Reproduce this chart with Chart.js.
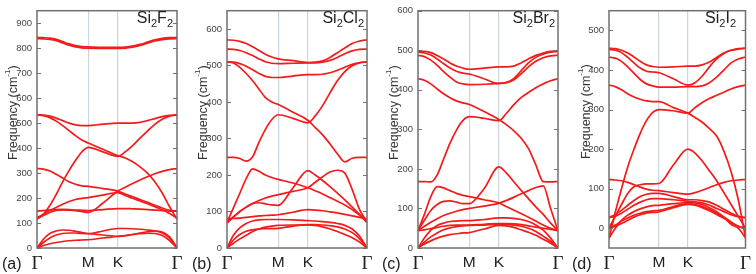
<!DOCTYPE html>
<html><head><meta charset="utf-8">
<script src="https://cdn.jsdelivr.net/npm/chart.js@4/dist/chart.umd.min.js"></script>
<style>
html,body{margin:0;padding:0;background:#fff;}
#wrap{position:relative;width:756px;height:274px;overflow:hidden;font-family:'Liberation Sans',Arial,sans-serif;}
canvas{position:absolute;top:0;}
.ytitle{position:absolute;writing-mode:vertical-rl;transform:rotate(180deg);white-space:nowrap;font-size:12.5px;line-height:14px;width:14px;height:100px;text-align:center;color:#333;}
.ytitle sup{font-size:8px;}
.plabel{position:absolute;top:255px;font-size:16px;color:#222;}
.name{position:absolute;top:9px;font-size:16px;color:#222;white-space:nowrap;}
.name sub{font-size:11px;vertical-align:-4px;}
</style></head><body>
<div id="wrap">
<canvas id="ca" width="190" height="274" style="left:0px"></canvas>
<canvas id="cb" width="190" height="274" style="left:190px"></canvas>
<canvas id="cc" width="190" height="274" style="left:380px"></canvas>
<canvas id="cd" width="190" height="274" style="left:566px"></canvas>
<div class="ytitle" style="left:1px;top:63px">Frequency (cm<sup>-1</sup>)</div>
<div class="ytitle" style="left:191px;top:63px">Frequency (cm<sup>-1</sup>)</div>
<div class="ytitle" style="left:382px;top:63px">Frequency (cm<sup>-1</sup>)</div>
<div class="ytitle" style="left:574px;top:62px">Frequency (cm<sup>-1</sup>)</div>
<div class="plabel" style="left:2px">(a)</div>
<div class="plabel" style="left:192px">(b)</div>
<div class="plabel" style="left:382px">(c)</div>
<div class="plabel" style="left:572px">(d)</div>
<div class="name" style="right:583px">Si<sub>2</sub>F<sub>2</sub></div>
<div class="name" style="right:392px">Si<sub>2</sub>Cl<sub>2</sub></div>
<div class="name" style="right:201px">Si<sub>2</sub>Br<sub>2</sub></div>
<div class="name" style="right:20px">Si<sub>2</sub>I<sub>2</sub></div>
</div>
<script>
// k-path positions (Γ -> M -> K -> Γ), in units of reciprocal lattice length
const kPath = [0, 0.0722, 0.1443, 0.2165, 0.2887, 0.3608, 0.4330, 0.5052, 0.5774, 0.7440, 0.9107, 0.9940, 1.0774, 1.1607, 1.2440, 1.3274, 1.4107, 1.4940, 1.5774];
const xTickPos = [0, 0.5774, 0.9107, 1.5774];
const xTickLabels = ['Γ', 'M', 'K', 'Γ'];

const yTicksA = [0, 100, 200, 300, 400, 500, 600, 700, 800, 900];
const yTicksB = [0, 100, 200, 300, 400, 500, 600];
const yTicksC = [0, 100, 200, 300, 400, 500, 600];
const yTicksD = [0, 100, 200, 300, 400, 500];

// Si2F2 phonon branches (cm^-1)
const bandsA = [
  [843,842,840,835,826,817,810,806,805,803,803,804,808,815,824,833,839,842,843],
  [838,837,835,830,821,812,805,801,800,799,799,800,804,811,820,829,834,837,838],
  [533,532,528,520,510,500,493,490,490,496,500,500,500,503,510,518,526,531,533],
  [533,530,522,508,490,470,450,432,420,395,370,360,345,325,300,265,220,165,115],
  [115,135,170,215,265,310,350,385,403,385,367,385,410,440,468,495,515,528,533],
  [318,316,308,295,280,265,255,249,247,238,228,216,205,194,183,171,160,151,148],
  [122,135,150,162,175,186,194,199,202,212,222,210,199,188,177,165,153,138,120],
  [118,130,142,150,153,152,150,146,143,180,228,243,258,272,285,297,307,314,318],
  [148,150,152,154,155,154,152,151,150,154,158,158,157,156,154,152,150,148,148],
  [0,35,58,68,72,71,67,62,58,52,47,49,54,60,65,68,64,45,0],
  [0,22,40,52,58,60,60,58,57,68,78,78,77,75,72,68,60,40,0],
  [0,10,17,22,26,29,31,32,33,40,46,50,54,57,59,58,50,30,0]
];
// Si2Cl2
const bandsB = [
  [570,569,566,560,551,541,531,523,518,513,508,509,513,522,535,548,560,567,570],
  [545,544,541,535,527,518,510,506,505,506,507,507,509,514,522,532,540,544,545],
  [510,509,505,498,488,478,470,467,467,471,475,475,476,480,487,495,503,508,510],
  [510,507,495,478,458,435,412,400,393,372,350,330,310,285,258,236,246,248,248],
  [248,248,245,238,250,290,325,352,365,355,343,362,390,425,458,483,499,507,510],
  [70,110,150,190,217,210,200,193,188,178,165,157,148,138,128,118,105,90,70],
  [70,85,100,112,122,130,137,142,146,155,165,180,195,208,213,205,160,105,72],
  [68,85,100,112,122,124,121,118,117,165,212,200,185,168,150,132,112,92,70],
  [80,81,82,84,86,88,89,90,91,98,105,104,102,99,96,92,88,84,80],
  [0,35,55,67,74,77,78,78,78,77,75,74,72,70,67,62,52,32,0],
  [0,22,37,46,50,52,53,53,54,60,64,64,63,61,58,52,42,25,0],
  [0,13,25,35,45,52,57,60,62,63,63,62,58,52,45,37,28,16,0]
];
// Si2Br2
const bandsC = [
  [498,497,494,487,478,468,460,455,452,455,458,458,460,468,478,487,493,497,498],
  [495,493,488,478,466,455,447,442,440,428,416,418,428,448,468,482,490,495,497],
  [487,484,475,462,446,432,420,415,413,414,416,418,425,440,458,472,481,486,487],
  [428,424,415,402,390,380,372,367,363,345,325,312,297,278,252,210,168,167,168],
  [168,168,167,185,225,265,298,322,332,328,322,340,362,380,393,405,415,423,428],
  [44,70,95,110,118,119,116,112,112,150,205,190,168,146,125,104,85,63,44],
  [44,85,130,155,152,145,138,133,130,122,114,105,96,87,78,68,58,50,44],
  [44,55,65,74,82,88,93,97,100,106,113,120,128,137,145,153,157,100,44],
  [44,46,49,52,55,57,58,58,58,60,62,62,61,59,56,53,50,47,44],
  [0,25,45,57,63,67,68,69,69,72,76,76,75,72,67,58,45,25,0],
  [0,15,28,38,46,51,54,56,57,58,60,60,58,55,50,42,30,17,0],
  [0,10,18,25,30,34,36,38,39,48,57,56,52,46,40,32,22,12,0]
];
// Si2I2
const bandsD = [
  [455,454,450,443,433,422,413,409,407,408,410,410,413,420,432,443,450,454,455],
  [452,450,444,432,418,405,397,395,393,378,362,368,385,408,428,442,450,453,455],
  [433,430,422,408,392,376,365,360,357,357,358,358,360,368,382,400,418,428,433],
  [362,358,350,340,332,326,322,320,320,305,291,280,268,252,233,195,143,72,-25],
  [-25,40,100,155,200,240,272,293,300,297,291,305,318,328,336,344,352,358,362],
  [123,122,120,116,110,104,99,96,95,90,86,90,96,103,110,116,120,122,123],
  [0,30,60,88,105,110,112,112,113,160,200,190,170,145,120,90,60,30,0],
  [27,35,45,58,70,80,86,88,88,80,72,72,70,66,58,48,38,30,27],
  [27,30,38,48,58,66,72,75,75,72,68,67,64,58,50,42,34,29,27],
  [-25,0,20,33,42,49,54,57,58,62,65,64,60,52,42,28,10,0,-25],
  [0,8,18,26,33,38,42,44,45,55,62,60,55,47,38,28,16,5,0],
  [0,5,12,20,28,34,38,40,41,52,60,58,52,44,35,25,14,5,0]
];

const framePlugin = {
  id: 'frame',
  afterDraw(chart) {
    const {ctx, chartArea: a, scales: {y}} = chart;
    ctx.save();
    ctx.strokeStyle = '#707070';
    ctx.lineWidth = 1.5;
    ctx.strokeRect(a.left, a.top, a.right - a.left, a.bottom - a.top);
    ctx.lineWidth = 1.2;
    ctx.beginPath();
    y.ticks.forEach(t => {
      const py = Math.round(y.getPixelForValue(t.value)) + 0.5;
      ctx.moveTo(a.left, py); ctx.lineTo(a.left + 4, py);
      ctx.moveTo(a.right - 4, py); ctx.lineTo(a.right, py);
    });
    ctx.stroke();
    ctx.restore();
  }
};

function makePanel(id, bands, yTicks, yMin, yMax, yw, padR) {
  new Chart(document.getElementById(id), {
    type: 'line',
    data: {
      datasets: bands.map(b => ({
        data: b.map((v, i) => ({x: kPath[i], y: v})),
        borderColor: '#f51a1a',
        borderWidth: 1.7,
        pointRadius: 0,
        fill: false,
        cubicInterpolationMode: 'monotone'
      }))
    },
    options: {
      responsive: false,
      animation: false,
      devicePixelRatio: 1,
      events: [],
      layout: {padding: {top: 5, right: padR, left: 0, bottom: 0}},
      plugins: {legend: {display: false}, tooltip: {enabled: false}},
      scales: {
        x: {
          type: 'linear',
          min: 0, max: kPath[kPath.length - 1],
          afterBuildTicks: s => { s.ticks = xTickPos.map(v => ({value: v})); },
          afterFit: s => { s.height = 26; },
          border: {display: false},
          grid: {
            drawTicks: false,
            tickLength: 0,
            lineWidth: 1.2,
            color: c => (c.index === 1 || c.index === 2) ? '#c9d7de' : 'rgba(0,0,0,0)'
          },
          ticks: {
            autoSkip: false, maxRotation: 0, padding: 5, color: '#222',
            callback: (v, i) => xTickLabels[i],
            font: c => (c.index === 0 || c.index === 3)
              ? {family: "'Liberation Serif', serif", size: 19}
              : {family: "'Liberation Sans', sans-serif", size: 15.5}
          }
        },
        y: {
          min: yMin, max: yMax,
          afterBuildTicks: s => { s.ticks = yTicks.map(v => ({value: v})); },
          afterFit: s => { s.width = yw; },
          border: {display: false},
          grid: {display: false, drawTicks: false, tickLength: 0},
          ticks: {padding: 5, color: '#444', font: {family: "'Liberation Sans', sans-serif", size: 9.5}}
        }
      }
    },
    plugins: [framePlugin]
  });
}

makePanel('ca', bandsA, yTicksA, 0, 950, 37, 13);
makePanel('cb', bandsB, yTicksB, 0, 650, 37, 13);
makePanel('cc', bandsC, yTicksC, 0, 600, 38, 12);
makePanel('cd', bandsD, yTicksD, -50, 550, 43, 7);
</script>
</body></html>
